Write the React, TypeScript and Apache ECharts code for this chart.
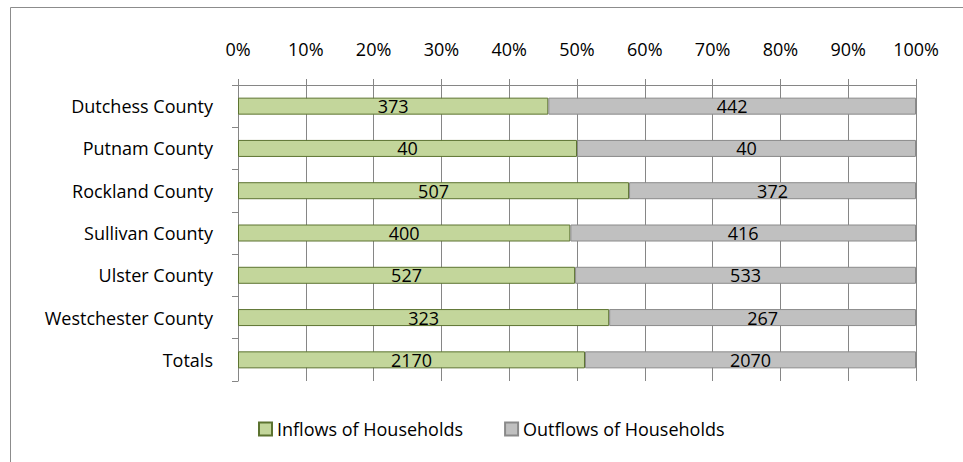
import React, { useEffect, useRef } from "react";
import * as echarts from "echarts";

const categories = [
  "Dutchess County",
  "Putnam County",
  "Rockland County",
  "Sullivan County",
  "Ulster County",
  "Westchester County",
  "Totals",
];
const inflows = [373, 40, 507, 400, 527, 323, 2170];
const outflows = [442, 40, 372, 416, 533, 267, 2070];
const seriesNames = ["Inflows of Households", "Outflows of Households"];
const percentTicks = [0, 0.1, 0.2, 0.3, 0.4, 0.5, 0.6, 0.7, 0.8, 0.9, 1];

const FONT = "'Open Sans', sans-serif";
const FS = 18;

export default function App() {
  const ref = useRef<HTMLDivElement>(null);
  useEffect(() => {
    if (!ref.current) return;
    const chart = echarts.init(ref.current, undefined, { renderer: "svg" });
    const totals = inflows.map((v, i) => v + outflows[i]);
    const inShare = inflows.map((v, i) => v / totals[i]);
    const outShare = outflows.map((v, i) => v / totals[i]);
    const gridColor = "#868686";
    const textStyle = { fontFamily: FONT, fontSize: FS, color: "#000" };
    chart.setOption({
      animation: false,
      textStyle: { fontFamily: FONT },
      graphic: [
        {
          type: "rect",
          shape: { x: 10.5, y: 7.5, width: 970, height: 470 },
          style: { fill: "none", stroke: "#8c8c8c", lineWidth: 1 },
          silent: true,
        },
      ],
      legend: {
        bottom: 19,
        left: 253,
        itemWidth: 13,
        itemHeight: 13,
        itemGap: 41,
        icon: "rect",
        textStyle: { ...textStyle, padding: [0, 0, 0, 0] },
        data: seriesNames,
      },
      grid: { left: 238, top: 85, width: 678, height: 296, containLabel: false },
      xAxis: {
        type: "value",
        position: "top",
        min: 0,
        max: 1,
        interval: 0.1,
        axisLine: { show: true, lineStyle: { color: gridColor, width: 1 } },
        axisTick: { show: true, inside: false, length: 6, lineStyle: { color: gridColor } },
        splitLine: { show: true, lineStyle: { color: gridColor, width: 1 } },
        axisLabel: {
          ...textStyle,
          margin: 27,
          formatter: (v: number) => {
            const t = percentTicks.find((p) => Math.abs(p - v) < 1e-6);
            return t === undefined ? "" : Math.round(t * 100) + "%";
          },
        },
      },
      yAxis: {
        type: "category",
        inverse: true,
        data: categories,
        axisLine: { show: true, lineStyle: { color: gridColor, width: 1 } },
        axisTick: { show: true, inside: false, length: 6, lineStyle: { color: gridColor } },
        axisLabel: { ...textStyle, margin: 25 },
      },
      series: [
        {
          name: seriesNames[0],
          type: "bar",
          stack: "total",
          barWidth: 17,
          data: inShare,
          itemStyle: { color: "#C3D69B", borderColor: "#5C7330", borderWidth: 1 },
          label: {
            show: true,
            position: "inside",
            ...textStyle,
            padding: [3, 0, 0, 0],
            formatter: (p: any) => String(inflows[p.dataIndex]),
          },
        },
        {
          name: seriesNames[1],
          type: "bar",
          stack: "total",
          barWidth: 17,
          data: outShare,
          itemStyle: { color: "#C0C0C0", borderColor: "#8A8A8A", borderWidth: 1 },
          label: {
            show: true,
            position: "inside",
            ...textStyle,
            padding: [3, 0, 0, 0],
            formatter: (p: any) => String(outflows[p.dataIndex]),
          },
        },
      ],
    });
    return () => chart.dispose();
  }, []);
  return (
    <div
      ref={ref}
      style={{ position: "absolute", left: 0, top: 0, width: 963, height: 462, background: "#fff" }}
    />
  );
}
